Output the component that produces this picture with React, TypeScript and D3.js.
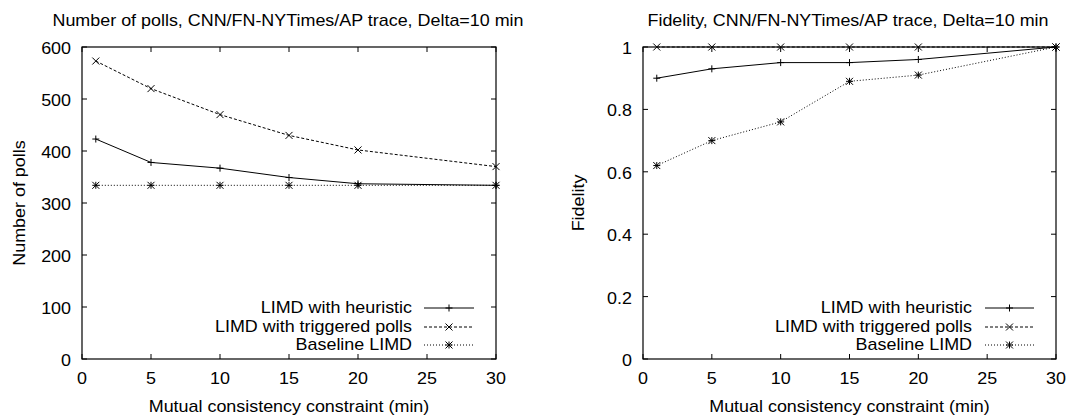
import { useEffect, useRef } from "react";
import * as d3 from "d3";

const constraints = [1, 5, 10, 15, 20, 30];
const seriesNames = ["LIMD with heuristic", "LIMD with triggered polls", "Baseline LIMD"];

const pollsHeuristic = [423, 378, 367, 349, 337, 334];
const pollsTriggered = [573, 520, 470, 430, 402, 370];
const pollsBaseline = [334, 334, 334, 334, 334, 334];

const fidelityHeuristic = [0.9, 0.93, 0.95, 0.95, 0.96, 1.0];
const fidelityTriggered = [1, 1, 1, 1, 1, 1];
const fidelityBaseline = [0.62, 0.7, 0.76, 0.89, 0.91, 1.0];

const xTicks = [0, 5, 10, 15, 20, 25, 30];
const pollTicks = [0, 100, 200, 300, 400, 500, 600];
const fidelityTicks = [0, 0.2, 0.4, 0.6, 0.8, 1];

const FONT = "'Liberation Sans', Arial, Helvetica, sans-serif";
const FONT_SIZE = 16;
const STRETCH = 1.12; // the source glyphs are a bit wider than they are tall
const dashes = ["none", "3,2", "1,2"];
type Marker = "plus" | "cross" | "star";
const markers: Marker[] = ["plus", "cross", "star"];

type PanelSpec = {
  left: number;
  right: number;
  title: string;
  titleX: number;
  yLabel: string;
  yLabelX: number;
  yDomain: [number, number];
  yTicks: number[];
  series: number[][];
  legendTextRight: number;
  legendLine: [number, number];
};

const panels: PanelSpec[] = [
  {
    left: 82,
    right: 496,
    title: "Number of polls, CNN/FN-NYTimes/AP trace, Delta=10 min",
    titleX: 288,
    yLabel: "Number of polls",
    yLabelX: 25,
    yDomain: [0, 600],
    yTicks: pollTicks,
    series: [pollsHeuristic, pollsTriggered, pollsBaseline],
    legendTextRight: 412,
    legendLine: [424, 474],
  },
  {
    left: 643,
    right: 1056,
    title: "Fidelity, CNN/FN-NYTimes/AP trace, Delta=10 min",
    titleX: 848,
    yLabel: "Fidelity",
    yLabelX: 584,
    yDomain: [0, 1],
    yTicks: fidelityTicks,
    series: [fidelityHeuristic, fidelityTriggered, fidelityBaseline],
    legendTextRight: 972,
    legendLine: [985, 1034],
  },
];

const TOP = 47;
const BOTTOM = 359;
const legendRows = [308, 327, 345];

type G = d3.Selection<SVGGElement, unknown, null, undefined>;

function label(g: G, x: number, y: number, str: string, anchor: string, rotate = 0) {
  g.append("text")
    .attr("transform", `translate(${x},${y}) rotate(${rotate}) scale(${STRETCH},1)`)
    .attr("text-anchor", anchor)
    .text(str);
}

function drawMarker(g: G, kind: Marker, x: number, y: number) {
  const s = 3.5;
  const d: string[] = [];
  if (kind === "plus" || kind === "star") d.push(`M${x - s},${y}H${x + s}M${x},${y - s}V${y + s}`);
  if (kind === "cross" || kind === "star") d.push(`M${x - s},${y - s}L${x + s},${y + s}M${x - s},${y + s}L${x + s},${y - s}`);
  g.append("path").attr("d", d.join("")).attr("stroke", "#000").attr("stroke-width", 1).attr("fill", "none");
}

export default function App() {
  const svgRef = useRef<SVGSVGElement>(null);

  useEffect(() => {
    if (!svgRef.current) return;
    const svg = d3.select(svgRef.current);
    svg.selectAll("*").remove();

    panels.forEach((p) => {
      const x = d3.scaleLinear().domain([0, 30]).range([p.left, p.right]);
      const y = d3.scaleLinear().domain(p.yDomain).range([BOTTOM, TOP]);
      const g = svg.append("g").attr("font-family", FONT).attr("font-size", FONT_SIZE).attr("fill", "#000");

      label(g, p.titleX, 26, p.title, "middle");

      // gnuplot style: ticks inward on all four sides
      const tickLen = 5;
      xTicks.forEach((t) => {
        g.append("line").attr("x1", x(t)).attr("x2", x(t)).attr("y1", BOTTOM).attr("y2", BOTTOM - tickLen).attr("stroke", "#000");
        g.append("line").attr("x1", x(t)).attr("x2", x(t)).attr("y1", TOP).attr("y2", TOP + tickLen).attr("stroke", "#000");
        label(g, x(t), 384, String(t), "middle");
      });
      p.yTicks.forEach((t) => {
        g.append("line").attr("x1", p.left).attr("x2", p.left + tickLen).attr("y1", y(t)).attr("y2", y(t)).attr("stroke", "#000");
        g.append("line").attr("x1", p.right).attr("x2", p.right - tickLen).attr("y1", y(t)).attr("y2", y(t)).attr("stroke", "#000");
        label(g, p.left - 11, y(t) + 7, String(t), "end");
      });

      label(g, (p.left + p.right) / 2, 412, "Mutual consistency constraint (min)", "middle");
      label(g, p.yLabelX, (TOP + BOTTOM) / 2, p.yLabel, "middle", -90);

      const line = d3.line<number>().x((_, i) => x(constraints[i])).y((v) => y(v));
      p.series.forEach((vals, si) => {
        g.append("path")
          .attr("d", line(vals))
          .attr("fill", "none")
          .attr("stroke", "#000")
          .attr("stroke-width", 1)
          .attr("stroke-dasharray", dashes[si]);
        vals.forEach((v, i) => drawMarker(g, markers[si], x(constraints[i]), y(v)));
      });

      seriesNames.forEach((name, si) => {
        const ly = legendRows[si];
        label(g, p.legendTextRight, ly + 4.5, name, "end");
        g.append("line")
          .attr("x1", p.legendLine[0])
          .attr("x2", p.legendLine[1])
          .attr("y1", ly)
          .attr("y2", ly)
          .attr("stroke", "#000")
          .attr("stroke-dasharray", dashes[si]);
        drawMarker(g, markers[si], (p.legendLine[0] + p.legendLine[1]) / 2, ly);
      });

      g.append("rect")
        .attr("x", p.left)
        .attr("y", TOP)
        .attr("width", p.right - p.left)
        .attr("height", BOTTOM - TOP)
        .attr("fill", "none")
        .attr("stroke", "#000")
        .attr("stroke-width", 1.2);
    });
  }, []);

  return (
    <svg
      ref={svgRef}
      width={1070}
      height={418}
      style={{ position: "fixed", left: 0, top: 0, background: "#fff" }}
    />
  );
}
